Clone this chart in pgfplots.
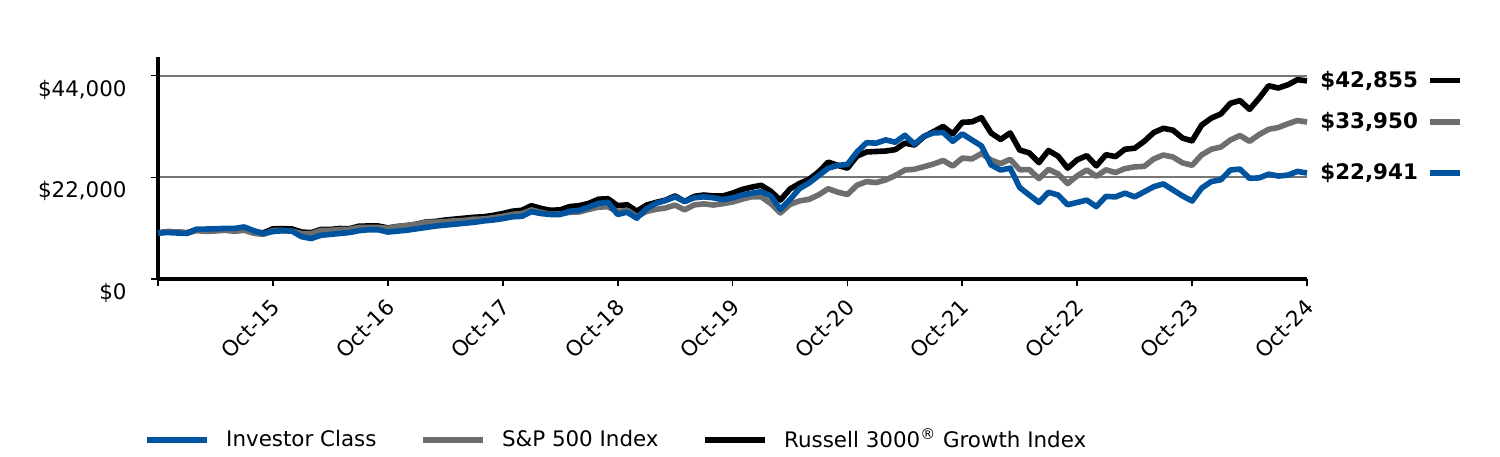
\documentclass[border=0pt]{standalone}
\usepackage{fontspec}
\setmainfont{DejaVu Sans}
\usepackage{pgfplots}
\usepackage{pgfplotstable}
\pgfplotsset{compat=1.18}
\definecolor{fundblue}{RGB}{0,84,159}
\definecolor{spgray}{RGB}{110,110,110}
\definecolor{gridgray}{RGB}{118,118,118}

\pgfplotstableread{
i fund sp rg
0 10000 10000 10000
1 10100 10269 10300
2 10000 10243 10220
3 9900 9936 10050
4 10800 10507 10650
5 10850 10341 10550
6 10900 10440 10620
7 11000 10575 10760
8 11000 10370 10580
9 11300 10588 10930
10 10500 9949 10280
11 9900 9704 10020
12 10300 10523 10900
13 10500 10554 10930
14 10400 10388 10880
15 9200 9872 10200
16 8800 9859 10080
17 9500 10528 10760
18 9700 10569 10770
19 9900 10759 10970
20 10100 10787 10920
21 10500 11185 11480
22 10700 11201 11510
23 10700 11203 11520
24 10200 10999 11100
25 10400 11406 11400
26 10600 11632 11600
27 10900 11853 11900
28 11200 12323 12400
29 11500 12338 12500
30 11700 12465 12800
31 11900 12641 13000
32 12100 12719 13200
33 12300 12981 13400
34 12600 13021 13500
35 12800 13289 13800
36 13100 13599 14200
37 13500 14016 14700
38 13600 14172 14900
39 14600 14984 15900
40 14200 14431 15300
41 14000 14065 14900
42 14000 14118 15000
43 14700 14459 15700
44 14900 14548 15900
45 15600 15090 16400
46 16400 15581 17300
47 16600 15670 17400
48 14000 14598 15900
49 14500 14896 16100
50 13200 13551 14700
51 15200 14636 16000
52 16400 15106 16600
53 17000 15399 17100
54 17800 16023 18000
55 16800 15005 16800
56 17600 16063 17900
57 17800 16294 18200
58 17600 16037 18000
59 17200 16337 18000
60 17600 16691 18600
61 18200 17297 19400
62 18600 17819 19900
63 18900 17812 20300
64 18000 16346 19000
65 15100 14327 17100
66 17200 16164 19500
67 19600 16933 20700
68 20800 17270 21600
69 22400 18244 23200
70 24000 19556 25300
71 24600 18813 24600
72 24800 18312 24000
73 27500 20318 26600
74 29500 21098 27500
75 29400 20885 27600
76 30100 21461 27700
77 29600 22401 28000
78 31100 23597 29400
79 29200 23762 29000
80 30900 24316 30800
81 31600 24895 31900
82 31700 25652 33000
83 29800 24459 31400
84 31400 26174 33900
85 30100 25993 34000
86 28800 27158 34900
87 24700 25754 31600
88 23600 24984 30200
89 24000 25911 31600
90 19800 23652 27900
91 18200 23694 27300
92 16600 21740 25200
93 18800 23744 27800
94 18200 22775 26600
95 16100 20677 24000
96 16600 22352 25800
97 17100 23601 26700
98 15700 22242 24500
99 17900 23639 26900
100 17800 23062 26500
101 18600 23908 28100
102 17800 24281 28300
103 18900 24386 29800
104 20000 25998 31700
105 20600 26832 32600
106 19300 26405 32200
107 18000 25146 30500
108 16900 24618 29900
109 19700 26866 33300
110 21100 28086 34800
111 21500 28558 35700
112 23600 30083 38000
113 23800 31052 38600
114 21800 29785 36700
115 21900 31262 39100
116 22700 32385 41800
117 22300 32780 41300
118 22500 33576 42000
119 23300 34294 43100
120 22941 33950 42855
}\growthdata

\begin{document}
\begin{tikzpicture}
\begin{axis}[
  at={(0,0)}, anchor=south west,
  scale only axis, width=574.5pt, height=111.15pt,
  xmin=0, xmax=120, ymin=0, ymax=48000,
  scaled y ticks=false,
  axis x line=bottom, axis y line=left,
  axis line style={-, line width=2pt, black},
  xtick={0,12,...,120},
  xticklabels={{},Oct-15,Oct-16,Oct-17,Oct-18,Oct-19,Oct-20,Oct-21,Oct-22,Oct-23,Oct-24},
  ytick={0,22000,44000},
  yticklabels={{\$0},{\$22,000},{\$44,000}},
  tick align=outside, major tick length=3.5pt,
  tick style={line width=0.9pt, black},
  ymajorgrids, major grid style={gridgray, line width=1pt},
  font=\fontsize{10.7}{12.8}\selectfont,
  yticklabel style={anchor=east, inner sep=0pt, xshift=-12pt, yshift=-7pt},
  xticklabel style={xshift=-1.5pt, yshift=-5.5pt, rotate=45, anchor=north east, inner sep=0pt},
  clip=false,
  legend style={draw=none, fill=none, inner sep=0pt,
    at={(rel axis cs:-0.012,-0.723)}, anchor=west,
    font=\fontsize{10.7}{12.8}\selectfont,
    /tikz/every even column/.append style={column sep=20pt},
    /tikz/every odd column/.append style={column sep=6pt}},
  legend columns=-1,
  legend image code/.code={\draw[#1] (0pt,0pt) -- (30pt,0pt);},
  every axis plot/.append style={line width=2.8pt, line join=round},
]
\addlegendimage{fundblue, line width=2.8pt}
\addlegendentry{Investor Class}
\addlegendimage{spgray, line width=2.8pt}
\addlegendentry{S\&P 500 Index}
\addlegendimage{black, line width=2.8pt}
\addlegendentry{Russell 3000\textsuperscript{®} Growth Index}

\addplot[black, forget plot] table[x=i, y=rg] {\growthdata};
\addplot[spgray, forget plot] table[x=i, y=sp] {\growthdata};
\addplot[fundblue, forget plot] table[x=i, y=fund] {\growthdata};

\node[anchor=west, inner sep=0pt, xshift=6.5pt, font=\fontsize{10.7}{12.8}\selectfont\bfseries] at (axis cs:120,42855) {\$42,855};
\node[anchor=west, inner sep=0pt, xshift=6.5pt, font=\fontsize{10.7}{12.8}\selectfont\bfseries] at (axis cs:120,33950) {\$33,950};
\node[anchor=west, inner sep=0pt, xshift=6.5pt, font=\fontsize{10.7}{12.8}\selectfont\bfseries] at (axis cs:120,22941) {\$22,941};
\draw[black, line width=2.6pt] (axis cs:120,42855) ++(61.5pt,0) -- ++(15pt,0);
\draw[spgray, line width=2.6pt] (axis cs:120,33950) ++(61.5pt,0) -- ++(15pt,0);
\draw[fundblue, line width=2.6pt] (axis cs:120,22941) ++(61.5pt,0) -- ++(15pt,0);
\end{axis}
\path ([shift={(-79pt,-88.35pt)}]current axis.south west) rectangle ++(750pt,228pt);
\end{tikzpicture}
\end{document}
